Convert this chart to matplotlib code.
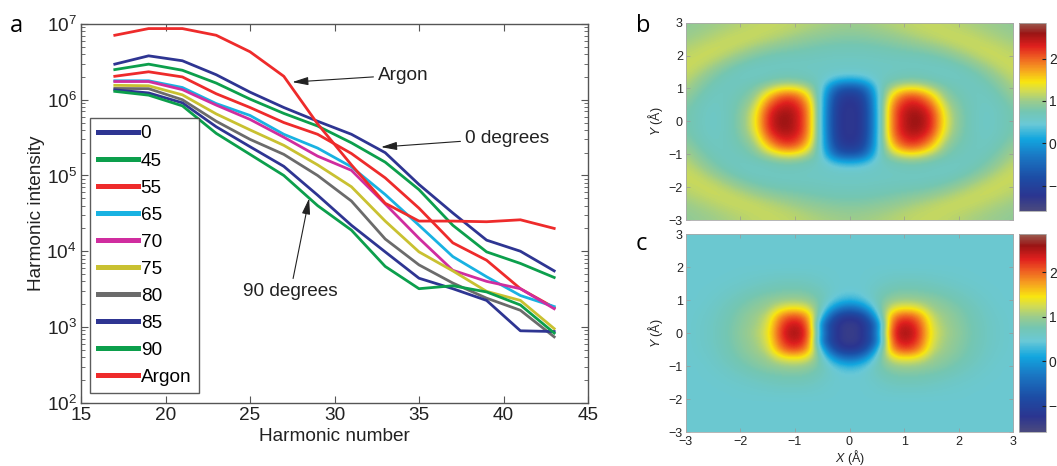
import numpy as np
import matplotlib
matplotlib.use("Agg")
import matplotlib.pyplot as plt
from matplotlib.colors import LinearSegmentedColormap
from matplotlib.ticker import LogLocator, LogFormatterMathtext, NullFormatter

plt.rcParams['font.family'] = ['Liberation Sans', 'DejaVu Sans']
plt.rcParams['mathtext.fontset'] = 'custom'
plt.rcParams['mathtext.rm'] = 'Liberation Sans'
plt.rcParams['mathtext.it'] = 'Liberation Sans:italic'

# ---------------- panel a: harmonic spectra ----------------
harmonics = [17, 19, 21, 23, 25, 27, 29, 31, 33, 35, 37, 39, 41, 43]

deg_0 = [2.95e6, 3.8e6, 3.27e6, 2.14e6, 1.26e6, 7.9e5, 5.2e5, 3.5e5, 2.0e5, 7.6e4, 3.2e4, 1.4e4, 1.0e4, 5.5e3]
deg_45 = [2.5e6, 2.95e6, 2.45e6, 1.66e6, 1.02e6, 6.6e5, 4.5e5, 2.7e5, 1.5e5, 6.5e4, 2.2e4, 9.8e3, 6.9e3, 4.5e3]
deg_55 = [2.04e6, 2.34e6, 2.0e6, 1.2e6, 7.9e5, 5.0e5, 3.5e5, 1.95e5, 9.3e4, 3.7e4, 1.29e4, 7.6e3, 3.2e3, 1.8e3]
deg_65 = [1.78e6, 1.78e6, 1.45e6, 8.9e5, 6.2e5, 3.5e5, 2.3e5, 1.3e5, 5.6e4, 2.2e4, 8.5e3, 4.6e3, 2.6e3, 1.86e3]
deg_70 = [1.74e6, 1.74e6, 1.36e6, 8.5e5, 5.5e5, 3.2e5, 1.8e5, 1.17e5, 4.2e4, 1.48e4, 5.6e3, 4.0e3, 3.2e3, 1.74e3]
deg_75 = [1.55e6, 1.53e6, 1.16e6, 6.5e5, 4.0e5, 2.5e5, 1.38e5, 7.1e4, 2.5e4, 9.8e3, 5.5e3, 2.95e3, 2.24e3, 9.5e2]
deg_80 = [1.41e6, 1.4e6, 1.0e6, 5.2e5, 3.0e5, 1.9e5, 1.0e5, 4.6e4, 1.45e4, 6.6e3, 3.8e3, 2.4e3, 1.66e3, 7.4e2]
deg_85 = [1.35e6, 1.23e6, 9.1e5, 4.4e5, 2.4e5, 1.32e5, 5.5e4, 2.2e4, 9.8e3, 4.4e3, 3.2e3, 2.24e3, 8.9e2, 8.7e2]
deg_90 = [1.29e6, 1.15e6, 8.3e5, 3.6e5, 1.9e5, 1.0e5, 4.0e4, 1.9e4, 6.3e3, 3.2e3, 3.5e3, 2.9e3, 1.95e3, 8.3e2]
argon = [7.1e6, 8.7e6, 8.7e6, 7.1e6, 4.3e6, 2.04e6, 4.8e5, 1.38e5, 4.3e4, 2.5e4, 2.5e4, 2.45e4, 2.6e4, 2.0e4]

series_labels = ['0', '45', '55', '65', '70', '75', '80', '85', '90', 'Argon']
series_values = [deg_0, deg_45, deg_55, deg_65, deg_70, deg_75, deg_80, deg_85, deg_90, argon]
series_colors = ['#2e3592', '#0c9f4c', '#ee2b2b', '#19b2e2', '#d02d9f',
                 '#c9c131', '#6b6b6b', '#2e3592', '#0c9f4c', '#ee2b2b']

# ---------------- panels b, c: 2-D maps (one quadrant, 0.25 Å grid) ----------------
# rows: Y = 0, 0.25, ..., 3 ; columns: X = 0, 0.25, ..., 3
map_b_quadrant = [
    [-1.30, -1.20, 0.20, 1.90, 2.50, 2.65, 2.30, 1.30, 0.85, 0.65, 0.58, 0.65, 0.80],
    [-1.30, -1.20, 0.20, 1.90, 2.50, 2.60, 2.25, 1.25, 0.85, 0.65, 0.58, 0.65, 0.80],
    [-1.30, -1.15, 0.25, 1.80, 2.35, 2.40, 2.00, 1.10, 0.80, 0.65, 0.60, 0.68, 0.85],
    [-1.20, -1.00, 0.30, 1.50, 2.10, 2.10, 1.60, 0.92, 0.75, 0.64, 0.62, 0.75, 0.95],
    [-0.80, -0.60, 0.45, 1.10, 1.40, 1.40, 1.10, 0.80, 0.68, 0.62, 0.68, 0.85, 1.05],
    [0.15, 0.25, 0.58, 0.70, 0.80, 0.80, 0.72, 0.65, 0.62, 0.65, 0.78, 0.95, 1.15],
    [0.55, 0.57, 0.60, 0.62, 0.65, 0.65, 0.62, 0.60, 0.64, 0.75, 0.90, 1.10, 1.20],
    [0.60, 0.60, 0.61, 0.62, 0.62, 0.62, 0.64, 0.68, 0.78, 0.92, 1.08, 1.20, 1.20],
    [0.64, 0.64, 0.66, 0.68, 0.70, 0.72, 0.77, 0.85, 0.97, 1.10, 1.20, 1.20, 1.15],
    [0.72, 0.73, 0.75, 0.79, 0.84, 0.88, 0.95, 1.04, 1.14, 1.20, 1.20, 1.15, 1.08],
    [0.83, 0.84, 0.88, 0.92, 0.98, 1.05, 1.12, 1.18, 1.20, 1.18, 1.12, 1.06, 1.00],
    [0.94, 0.96, 0.99, 1.04, 1.10, 1.15, 1.18, 1.18, 1.15, 1.10, 1.04, 1.00, 0.95],
    [1.00, 1.02, 1.06, 1.10, 1.14, 1.17, 1.17, 1.15, 1.10, 1.04, 1.00, 0.96, 0.92],
]

map_c_quadrant = [
    [-1.40, -1.30, -0.30, 2.20, 2.65, 2.30, 1.30, 1.05, 0.90, 0.75, 0.62, 0.55, 0.50],
    [-1.40, -1.30, -0.50, 2.10, 2.50, 2.20, 1.25, 1.00, 0.88, 0.74, 0.62, 0.55, 0.50],
    [-1.25, -1.05, 0.20, 1.80, 2.20, 1.95, 1.15, 0.98, 0.85, 0.72, 0.60, 0.54, 0.50],
    [-0.50, -0.20, 0.60, 1.30, 1.45, 1.35, 1.00, 0.90, 0.80, 0.68, 0.58, 0.52, 0.50],
    [0.20, 0.35, 0.70, 0.95, 1.00, 0.97, 0.90, 0.82, 0.72, 0.62, 0.55, 0.50, 0.50],
    [0.45, 0.50, 0.65, 0.78, 0.82, 0.80, 0.76, 0.70, 0.63, 0.57, 0.52, 0.50, 0.50],
    [0.50, 0.50, 0.58, 0.65, 0.68, 0.67, 0.64, 0.60, 0.56, 0.53, 0.50, 0.50, 0.50],
    [0.50, 0.50, 0.53, 0.57, 0.58, 0.58, 0.56, 0.54, 0.52, 0.50, 0.50, 0.50, 0.50],
    [0.50] * 13,
    [0.50] * 13,
    [0.50] * 13,
    [0.50] * 13,
    [0.50] * 13,
]

cbar_ticks = [-1, 0, 1, 2]
cbar_range = (-1.6, 2.85)

cmap_nodes = [
    (-1.60, '#4b4a7e'), (-1.25, '#2b3590'), (-0.80, '#1c4ea6'), (-0.30, '#1a78c4'),
    (0.10, '#12a6df'), (0.45, '#6ac9d6'), (0.75, '#74c6b2'), (1.00, '#9ccc8c'),
    (1.25, '#d4dc50'), (1.45, '#f8e610'), (1.75, '#f6a020'), (2.05, '#ee5a22'),
    (2.30, '#e0201e'), (2.60, '#9a1414'), (2.85, '#9a5a4e'),
]


def full_map(quadrant):
    q = np.asarray(quadrant, dtype=float)
    half = np.vstack([q[:0:-1], q])
    return np.hstack([half[:, :0:-1], half])


lo, hi = cbar_range
cmap = LinearSegmentedColormap.from_list(
    'field', [((v - lo) / (hi - lo), c) for v, c in cmap_nodes])

fig = plt.figure(figsize=(10.57, 4.66), dpi=100)
W, H = 1057.0, 466.0


def px_axes(l, t, r, b):
    return fig.add_axes([l / W, 1 - b / H, (r - l) / W, (b - t) / H])


fs = 13.7
frame_col = '#555555'
text_col = '#222222'
ax = px_axes(81, 24, 588, 402.7)
for lab, vals, col in zip(series_labels, series_values, series_colors):
    ax.plot(harmonics, vals, color=col, lw=2.0, label=lab,
            zorder=3 if lab == 'Argon' else 2)
ax.set_yscale('log')
ax.set_xlim(15, 45)
ax.set_ylim(1e2, 1e7)
ax.set_xticks([15, 20, 25, 30, 35, 40, 45])
ax.yaxis.set_major_locator(LogLocator(base=10, numticks=10))
ax.yaxis.set_major_formatter(LogFormatterMathtext())
ax.yaxis.set_minor_locator(LogLocator(base=10, subs=np.arange(2, 10), numticks=20))
ax.yaxis.set_minor_formatter(NullFormatter())
ax.tick_params(which='both', direction='in', top=True, right=True,
               labelsize=fs, labelcolor=text_col, pad=3)
ax.tick_params(which='major', length=5, width=0.8, color=frame_col)
ax.tick_params(which='minor', length=3, width=0.6, color=frame_col)
for s in ax.spines.values():
    s.set_color(frame_col)
    s.set_linewidth(1.0)
ax.set_xlabel('Harmonic number', fontsize=fs, color=text_col, labelpad=3)
ax.set_ylabel('Harmonic intensity', fontsize=fs, color=text_col, labelpad=1)

leg = ax.legend(loc='lower left', bbox_to_anchor=(0.0178, 0.0248), borderaxespad=0,
                fontsize=fs, handlelength=2.1, handletextpad=0.16, labelspacing=0.51,
                frameon=True, fancybox=False, borderpad=0.4)
leg.get_frame().set_edgecolor('#333333')
leg.get_frame().set_linewidth(1.0)
for h in leg.get_lines():
    h.set_linewidth(3.6)

arrow_kw = dict(arrowstyle='-|>,head_length=0.7,head_width=0.18', color=text_col,
                lw=0.8, shrinkA=1, shrinkB=0)
ax.annotate('Argon', xy=(27.5, 1.71e6), xytext=(32.55, 2.12e6), fontsize=fs,
            ha='left', va='center', color=text_col, arrowprops=arrow_kw)
ax.annotate('0 degrees', xy=(32.75, 2.37e5), xytext=(37.7, 3.12e5), fontsize=fs,
            ha='left', va='center', color=text_col, arrowprops=arrow_kw)
ax.annotate('90 degrees', xy=(28.5, 5.0e4), xytext=(27.4, 2.97e3), fontsize=fs,
            ha='center', va='center', color=text_col, arrowprops=arrow_kw)

fig.text(10 / W, 1 - 32 / H, 'a', fontsize=17, family='Open Sans', va='baseline')

# ---------------- maps ----------------
map_boxes = [(22.7, 220.0, 22.7, 211.0, 32, 'b', map_b_quadrant, False),
             (234.3, 432.3, 234.3, 432.3, 250, 'c', map_c_quadrant, True)]
for top, bot, ctop, cbot, base, letter, quad, show_x in map_boxes:
    axm = px_axes(685.7, top, 1013.3, bot)
    data = full_map(quad)
    im = axm.imshow(data, origin='lower', extent=(-3.125, 3.125, -3.125, 3.125),
                    cmap=cmap, vmin=lo, vmax=hi, interpolation='bicubic', aspect='auto')
    axm.set_xlim(-3, 3)
    axm.set_ylim(-3, 3)
    axm.set_xticks(range(-3, 4))
    axm.set_yticks(range(-3, 4))
    axm.tick_params(direction='in', top=True, right=True, length=3, width=0.5,
                    color='#999999', labelsize=9, labelcolor=text_col, pad=2)
    axm.tick_params(axis='x', pad=2.5)
    if not show_x:
        axm.tick_params(labelbottom=False)
    else:
        axm.set_xlabel('$X$ (Å)', fontsize=9, labelpad=0, color=text_col)
    axm.set_ylabel('$Y$ (Å)', fontsize=9, labelpad=3, color=text_col)
    for s in axm.spines.values():
        s.set_color('#aaaaaa')
        s.set_linewidth(0.6)
    fig.text(636 / W, 1 - base / H, letter, fontsize=17, family='Open Sans',
             va='baseline')

    cax = px_axes(1019, ctop, 1046, cbot)
    cb = fig.colorbar(im, cax=cax)
    cb.set_ticks(cbar_ticks)
    cb.ax.tick_params(direction='in', length=3, width=0.8, labelsize=10, pad=2,
                      color=text_col, labelcolor=text_col)
    cb.outline.set_edgecolor('#aaaaaa')
    cb.outline.set_linewidth(0.6)

fig.savefig('out.png', dpi=100)
